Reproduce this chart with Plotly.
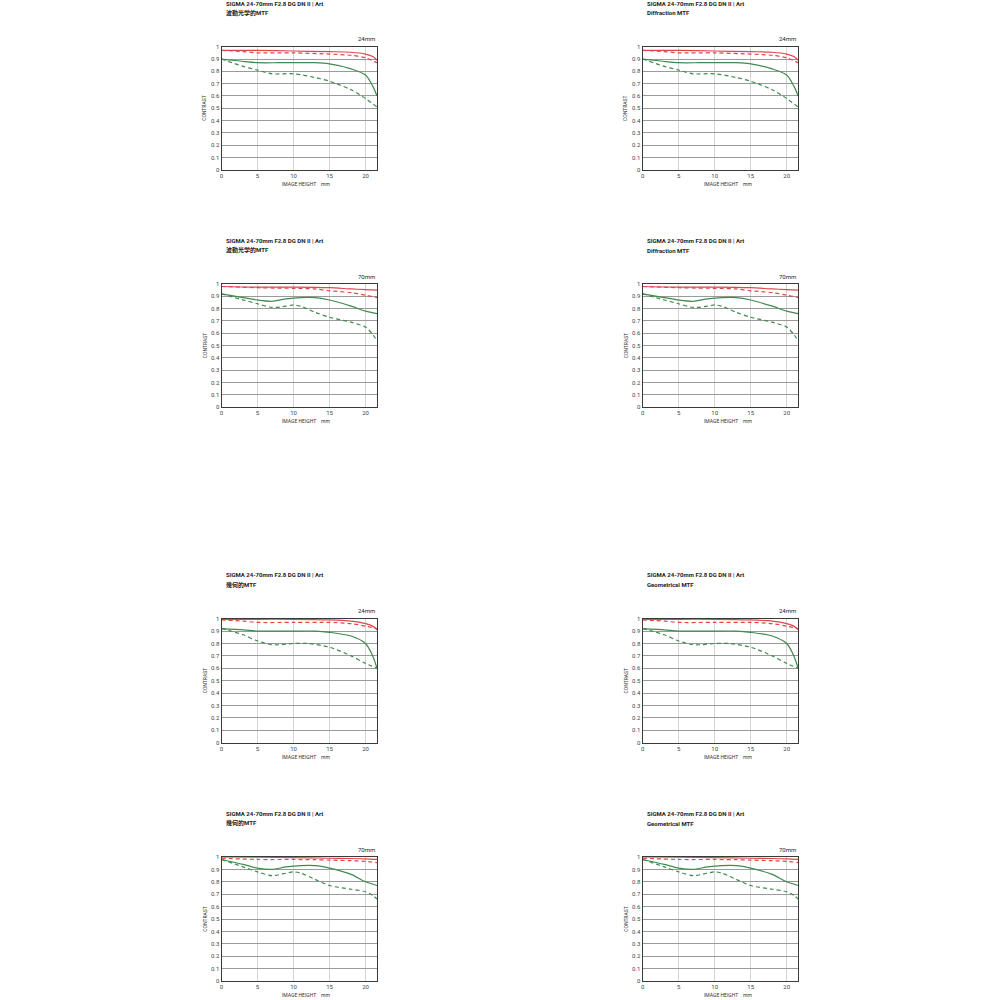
import plotly.graph_objects as go

# ---------------- data ----------------
x_24_rs = [0, 5, 10, 15, 18, 20, 21, 21.6]
y_w24_rs = [0.97, 0.97, 0.965, 0.96, 0.955, 0.94, 0.92, 0.89]
x_24_rd = [0, 3, 5, 10, 15, 18, 20, 21.6]
y_w24_rd = [0.97, 0.96, 0.95, 0.95, 0.94, 0.93, 0.91, 0.87]
x_24_gs = [0, 3, 5, 8, 10, 13, 15, 18, 20, 21, 21.6]
y_w24_gs = [0.90, 0.88, 0.87, 0.87, 0.87, 0.87, 0.86, 0.82, 0.77, 0.68, 0.60]
x_24_gd = [0, 3, 5, 7, 10, 13, 15, 18, 20, 21.6]
y_w24_gd = [0.90, 0.84, 0.81, 0.78, 0.78, 0.75, 0.72, 0.65, 0.58, 0.51]

x_70_rs = [0, 5, 10, 15, 18, 20, 21.6]
y_w70_rs = [0.98, 0.975, 0.975, 0.97, 0.96, 0.955, 0.95]
x_70_rd = [0, 5, 10, 13, 15, 18, 20, 21.6]
y_w70_rd = [0.98, 0.97, 0.965, 0.96, 0.945, 0.93, 0.91, 0.89]
x_70_gs = [0, 3, 5, 7, 9, 11, 13, 15, 18, 20, 21.6]
y_w70_gs = [0.92, 0.89, 0.87, 0.86, 0.88, 0.89, 0.89, 0.87, 0.82, 0.78, 0.76]
x_70_gd = [0, 3, 5, 7, 9, 10, 11, 13, 15, 18, 20, 21, 21.6]
y_w70_gd = [0.92, 0.87, 0.84, 0.81, 0.82, 0.83, 0.82, 0.77, 0.73, 0.69, 0.65, 0.59, 0.54]

y_g24_rs = [0.995, 0.995, 0.995, 0.99, 0.98, 0.96, 0.94, 0.91]
y_g24_rd = [0.99, 0.98, 0.97, 0.97, 0.97, 0.96, 0.94, 0.92]
y_g24_gs = [0.92, 0.91, 0.90, 0.90, 0.90, 0.90, 0.89, 0.86, 0.80, 0.70, 0.60]
x_g24_gd = [0, 3, 5, 7, 8, 10, 12, 15, 18, 20, 21.6]
y_g24_gd = [0.92, 0.87, 0.82, 0.79, 0.79, 0.80, 0.80, 0.77, 0.70, 0.64, 0.60]

y_g70_rs = [1.0, 0.998, 0.995, 0.99, 0.988, 0.985, 0.98]
y_g70_rd = [0.99, 0.98, 0.98, 0.978, 0.975, 0.97, 0.965, 0.955]
y_g70_gs = [0.98, 0.94, 0.91, 0.90, 0.92, 0.93, 0.93, 0.91, 0.86, 0.80, 0.77]
y_g70_gd = [0.98, 0.92, 0.88, 0.85, 0.87, 0.88, 0.87, 0.82, 0.77, 0.74, 0.72, 0.69, 0.66]

panels = [
    dict(focal="24mm", rs=(x_24_rs, y_w24_rs), rd=(x_24_rd, y_w24_rd), gs=(x_24_gs, y_w24_gs), gd=(x_24_gd, y_w24_gd)),
    dict(focal="70mm", rs=(x_70_rs, y_w70_rs), rd=(x_70_rd, y_w70_rd), gs=(x_70_gs, y_w70_gs), gd=(x_70_gd, y_w70_gd)),
    dict(focal="24mm", rs=(x_24_rs, y_g24_rs), rd=(x_24_rd, y_g24_rd), gs=(x_24_gs, y_g24_gs), gd=(x_g24_gd, y_g24_gd)),
    dict(focal="70mm", rs=(x_70_rs, y_g70_rs), rd=(x_70_rd, y_g70_rd), gs=(x_70_gs, y_g70_gs), gd=(x_70_gd, y_g70_gd)),
]
product = "SIGMA 24-70mm F2.8 DG DN II | Art"
subtitles_left = ["波動光学的MTF", "波動光学的MTF", "幾何的MTF", "幾何的MTF"]
subtitles_right = ["Diffraction MTF", "Diffraction MTF", "Geometrical MTF", "Geometrical MTF"]
x_ticks = [0, 5, 10, 15, 20]
y_ticks = [0, 0.1, 0.2, 0.3, 0.4, 0.5, 0.6, 0.7, 0.8, 0.9, 1]
y_ticklabels = ["0", "0.1", "0.2", "0.3", "0.4", "0.5", "0.6", "0.7", "0.8", "0.9", "1"]

# ---------------- layout geometry (pixels) ----------------
W = H = 1000
col_x = [(220, 376), (642, 798)]
row_y = [(43, 167), (282, 406), (619, 744), (859, 984)]
RED = "#e0474c"
GREEN = "#3f8a4e"
FONT = "Roboto, 'Noto Sans CJK JP', sans-serif"

def px(x):
    return x / W

def py(y):
    return 1 - y / H

fig = go.Figure()
annotations = []
k = 0
for c, (x0, x1) in enumerate(col_x):
    for r, (y0, y1) in enumerate(row_y):
        k += 1
        p = panels[r]
        xa = "x" if k == 1 else f"x{k}"
        ya = "y" if k == 1 else f"y{k}"
        for key, color, dash in [("gd", GREEN, "4px,3px"), ("gs", GREEN, "solid"),
                                 ("rd", RED, "4px,3px"), ("rs", RED, "solid")]:
            xs, ys = p[key]
            fig.add_trace(go.Scatter(x=xs, y=ys, mode="lines", xaxis=xa, yaxis=ya,
                                     line=dict(color=color, width=1.2, dash=dash, shape="spline", smoothing=0.8),
                                     showlegend=False, hoverinfo="skip"))
        common = dict(showline=True, linecolor="#3a3a3a", linewidth=1.2, mirror=True,
                      ticks="", zeroline=False, tickfont=dict(size=6, color="#444", family=FONT))
        fig.layout[f"xaxis{'' if k == 1 else k}"] = dict(
            domain=[px(x0), px(x1)], anchor=ya, range=[0, 21.63],
            tickvals=x_ticks, showgrid=True, gridcolor="#d4d4d4", gridwidth=1, **common)
        fig.layout[f"yaxis{'' if k == 1 else k}"] = dict(
            domain=[py(y1), py(y0)], anchor=xa, range=[0, 1.0],
            tickvals=y_ticks, ticktext=y_ticklabels, showgrid=True, gridcolor="#9a9a9a", gridwidth=1, **common)
        # titles
        tx = x0 + 2
        annotations.append(dict(x=px(tx), y=py(y0 - 44), xref="paper", yref="paper", text=f"<b>{product}</b>",
                                showarrow=False, xanchor="left", yanchor="middle",
                                font=dict(size=6, color="#222", family=FONT)))
        sub = subtitles_left[r] if c == 0 else subtitles_right[r]
        annotations.append(dict(x=px(tx), y=py(y0 - 34), xref="paper", yref="paper", text=f"<b>{sub}</b>",
                                showarrow=False, xanchor="left", yanchor="middle",
                                font=dict(size=6, color="#222", family=FONT)))
        annotations.append(dict(x=px(x1), y=py(y0 - 8), xref="paper", yref="paper", text=p["focal"],
                                showarrow=False, xanchor="right", yanchor="middle",
                                font=dict(size=6, color="#222", family=FONT)))
        annotations.append(dict(x=px(x0 - 17), y=py((y0 + y1) / 2), xref="paper", yref="paper", text="CONTRAST",
                                showarrow=False, xanchor="center", yanchor="middle", textangle=-90,
                                font=dict(size=5, color="#333", family=FONT)))
        annotations.append(dict(x=px((x0 + x1) / 2 + 7), y=py(y1 + 14), xref="paper", yref="paper",
                                text="IMAGE HEIGHT    mm",
                                showarrow=False, xanchor="center", yanchor="middle",
                                font=dict(size=5, color="#333", family=FONT)))

fig.update_layout(width=W, height=H, margin=dict(l=0, r=0, t=0, b=0),
                  paper_bgcolor="white", plot_bgcolor="white", annotations=annotations,
                  showlegend=False)
fig.write_html("out.html", config={"displayModeBar": False},
               post_script="document.body.style.margin='0';document.body.style.padding='0';document.body.style.overflow='hidden';")
